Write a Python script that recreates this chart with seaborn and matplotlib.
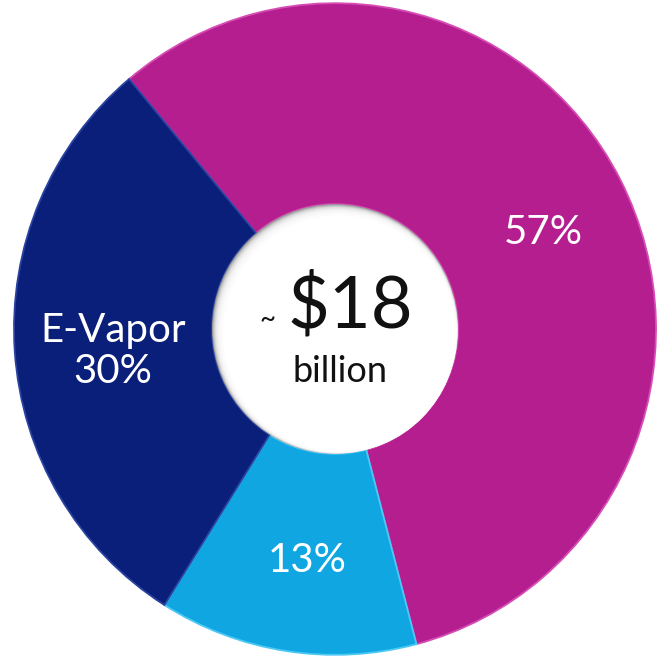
import matplotlib
matplotlib.use("Agg")
import matplotlib.pyplot as plt
import seaborn as sns
import numpy as np
from matplotlib.patches import Circle

sns.set_theme(style="white")
plt.rcParams['font.family'] = ['Lato', 'DejaVu Sans']

# Data
categories = ["Other", "Heated/Oral", "E-Vapor"]
shares = [57, 13, 30]
labels = ["57%", "13%", "E-Vapor\n30%"]
colors = ["#B51E8F", "#0FA6E2", "#0A1F7A"]
edge_colors = ["#D64DB5", "#4CC8F5", "#2A43A0"]
total_text = "$18"
unit_text = "billion"

W, H = 659, 656
SY = 1.015  # slight vertical stretch of the original graphic
fig = plt.figure(figsize=(W / 100, H / 100), dpi=100)
ax = fig.add_axes([0, 0, 1, 1])


def px(x, y):
    """pixel (top-origin) -> data coords"""
    return x, (H - y) / SY


cx, cy = px(335, 329)
R, r_in = 321, 123
start = 129.9

wedges, _ = ax.pie(shares, colors=colors, startangle=start, counterclock=False,
                   radius=R, center=(cx, cy),
                   wedgeprops=dict(width=R - r_in, linewidth=1.3, edgecolor="none"))
for w, ec in zip(wedges, edge_colors):
    w.set_edgecolor(ec)

# soft inner shadow on upper-left of the hole
ax.add_patch(Circle((cx, cy), r_in, facecolor="#9a9a9a", edgecolor="none", zorder=3))
for k in range(10):
    ax.add_patch(Circle((cx + 0.5 + k * 0.45, cy - 0.5 - k * 0.45), r_in - 0.5 - k * 0.6,
                        facecolor="white", edgecolor="none", alpha=0.35, zorder=3))
ax.add_patch(Circle((cx + 4.5, cy - 4.5), r_in - 6.5, facecolor="white",
                    edgecolor="none", zorder=3))

# labels
t = dict(color="white", fontsize=29, ha="center", va="center", zorder=5)
ax.text(*px(543, 232), labels[0], **t)
ax.text(*px(307, 560), labels[1], **t)
ax.text(*px(113, 351), labels[2], linespacing=1.15, **t)

ax.text(*px(350, 306), total_text, color="#111111", fontsize=52, ha="center", va="center", zorder=5)
ax.text(*px(267, 320), "~", color="#111111", fontsize=20, ha="center", va="center", zorder=5)
ax.text(*px(340, 371), unit_text, color="#111111", fontsize=26, ha="center", va="center", zorder=5)

ax.set_aspect("auto")
ax.set_xlim(0, W)
ax.set_ylim(0, H / SY)
ax.axis("off")
fig.savefig("out.png", dpi=100, facecolor="white")
